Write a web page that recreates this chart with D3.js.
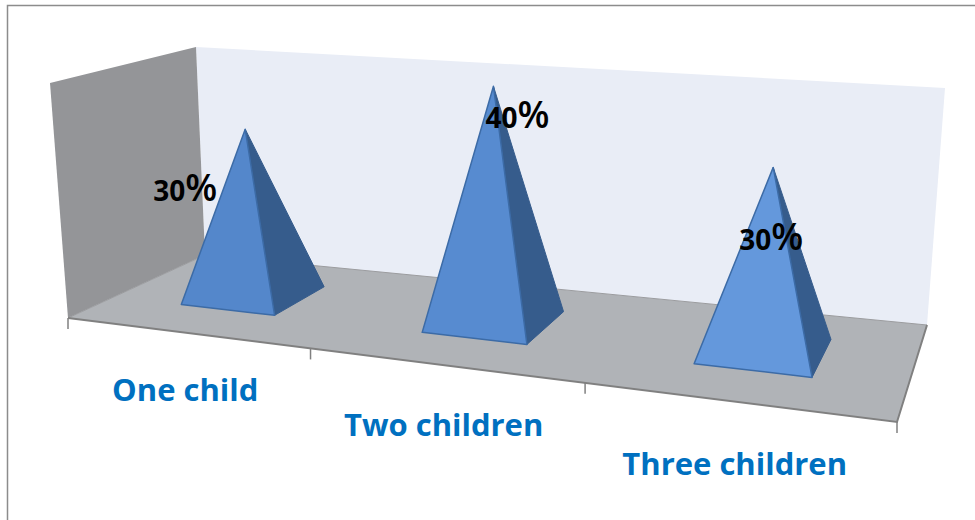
<!DOCTYPE html>
<html>
<head>
<meta charset="utf-8">
<script src="https://cdn.jsdelivr.net/npm/d3@7"></script>
<style>
  html, body { margin: 0; background: #fff; }
  svg { display: block; }
</style>
</head>
<body>
<div id="chart"></div>
<script>
// chart values
const categories = ["One child", "Two children", "Three children"];
const shares = [30, 40, 30];
const valueMax = 39.5;

// box corners as seen on screen (front/back, left/right)
const floorCorners = [[68, 318], [897, 422], [927, 325], [205, 255]];
const wallTop = [[50, 83], [915, 137], [945, 88], [196, 47]];
// the pyramids rise a bit straighter than the walls on the right hand side
const riseCorners = [[47, 83], [897, 137], [925, 88], [193, 47]];

// hand placed labels: data labels relative to the tip, names relative to the floor edge
const labelNudge = [[-60, 72], [24, 42], [-2, 83]];
const nameNudge = [[-5, 68], [2, 71], [-8, 72]];
// pyramid bases and tips, in fractions of the floor width
const baseShift = [-0.008, -0.001, -0.010];
const baseHalf = [0.07, 0.0665, 0.063];
const tipLean = [0.006, -0.009, 0.007];

const Width = 975, Height = 520;

// Unit square -> quad
function quadMap(q) {
    const [p0, p1, p2, p3] = q;
    const dx1 = p1[0] - p2[0], dx2 = p3[0] - p2[0], sx = p0[0] - p1[0] + p2[0] - p3[0];
    const dy1 = p1[1] - p2[1], dy2 = p3[1] - p2[1], sy = p0[1] - p1[1] + p2[1] - p3[1];
    const den = dx1 * dy2 - dx2 * dy1;
    const g = (sx * dy2 - dx2 * sy) / den;
    const h = (dx1 * sy - sx * dy1) / den;
    const a = p1[0] - p0[0] + g * p1[0], b = p3[0] - p0[0] + h * p3[0];
    const d = p1[1] - p0[1] + g * p1[1], e = p3[1] - p0[1] + h * p3[1];
    return (u, v) => {
        const w = g * u + h * v + 1;
        return [(a * u + b * v + p0[0]) / w, (d * u + e * v + p0[1]) / w];
    };
}

const floorAt = quadMap(floorCorners);
const topAt = quadMap(riseCorners);

const xScale = d3.scaleBand().domain(categories).range([0.018, 1.018]);
const zScale = d3.scaleLinear().domain([0, valueMax]).range([0, 1]);
const frontColor = d3.scaleLinear().domain([0, 0.5, 1]).range(["#5386c9", "#568acf", "#6a9ee2"]);

// category position, depth, value -> screen
function project(u, v, value) {
    const t = zScale(value);
    const f = floorAt(u, v), c = topAt(u, v);
    return [f[0] + (c[0] - f[0]) * t, f[1] + (c[1] - f[1]) * t];
}

const svg = d3.select("#chart").append("svg")
    .attr("width", Width)
    .attr("height", Height);

const poly = d3.line().curve(d3.curveLinearClosed);

// Outer frame
svg.append("path")
    .attr("d", d3.line()([[7.5, Height], [7.5, 5.5], [Width, 5.5]]))
    .attr("fill", "none")
    .attr("stroke", "#8c8c8c")
    .attr("stroke-width", 1.5);

// Walls and floor
svg.append("path").attr("d", poly([wallTop[3], wallTop[2], floorCorners[2], floorCorners[3]]))
    .attr("fill", "#e9edf6");
svg.append("path").attr("d", poly([wallTop[0], wallTop[3], floorCorners[3], floorCorners[0]]))
    .attr("fill", "#949598");
svg.append("path").attr("d", poly(floorCorners))
    .attr("fill", "#b0b3b7");
svg.append("path").attr("d", d3.line()([floorCorners[0], floorCorners[3], floorCorners[2]]))
    .attr("fill", "none")
    .attr("stroke", "#9b9c9f")
    .attr("stroke-width", 1);
svg.append("path").attr("d", d3.line()([floorCorners[0], floorCorners[1], floorCorners[2]]))
    .attr("fill", "none")
    .attr("stroke", "#808080")
    .attr("stroke-width", 2);

// Ticks between the categories
const tickAt = [0, xScale(categories[1]), xScale(categories[2]), 1];
svg.append("g").selectAll("line")
    .data(tickAt)
    .join("line")
    .attr("x1", d => floorAt(d, 0)[0])
    .attr("x2", d => floorAt(d, 0)[0])
    .attr("y1", d => floorAt(d, 0)[1])
    .attr("y2", d => floorAt(d, 0)[1] + 11)
    .attr("stroke", "#808080")
    .attr("stroke-width", 1.5);

// Pyramids
const depthFront = 0.305, depthBack = 0.72, depthTip = 0.42;

const pyramid = svg.append("g").selectAll("g")
    .data(categories)
    .join("g");

function center(c) { return xScale(c) + xScale.bandwidth() / 2; }
function baseCenter(c, i) { return center(c) + baseShift[i]; }
function tip(c, i) { return project(baseCenter(c, i) + tipLean[i], depthTip, shares[i]); }

// right side face
pyramid.append("path")
    .attr("d", (c, i) => poly([
        project(baseCenter(c, i) + baseHalf[i], depthFront, 0),
        project(baseCenter(c, i) + baseHalf[i], depthBack, 0),
        tip(c, i)
    ]))
    .attr("fill", "#365c8c")
    .attr("stroke", "#365c8c")
    .attr("stroke-width", 1);

// front face
pyramid.append("path")
    .attr("d", (c, i) => poly([
        project(baseCenter(c, i) - baseHalf[i], depthFront, 0),
        project(baseCenter(c, i) + baseHalf[i], depthFront, 0),
        tip(c, i)
    ]))
    .attr("fill", c => frontColor(center(c)))
    .attr("stroke", "#3c6ba6")
    .attr("stroke-width", 1.5)
    .attr("stroke-linejoin", "round");

// Data labels
const label = svg.append("g").selectAll("text")
    .data(categories)
    .join("text")
    .attr("x", (c, i) => tip(c, i)[0] + labelNudge[i][0])
    .attr("y", (c, i) => tip(c, i)[1] + labelNudge[i][1])
    .attr("text-anchor", "middle")
    .attr("fill", "#000")
    .attr("font-family", "'Open Sans', sans-serif");
label.append("tspan")
    .attr("font-size", 28)
    .attr("font-weight", 700)
    .text((c, i) => shares[i]);
label.append("tspan")
    .attr("font-size", 37)
    .attr("font-weight", 600)
    .text("%");

// Category labels
svg.append("g").selectAll("text")
    .data(categories)
    .join("text")
    .attr("x", (c, i) => floorAt(center(c), 0)[0] + nameNudge[i][0])
    .attr("y", (c, i) => floorAt(center(c), 0)[1] + nameNudge[i][1])
    .attr("text-anchor", "middle")
    .attr("fill", "#0070c0")
    .attr("font-family", "'Open Sans', sans-serif")
    .attr("font-weight", 700)
    .attr("font-size", 31)
    .text(c => c);
</script>
</body>
</html>
